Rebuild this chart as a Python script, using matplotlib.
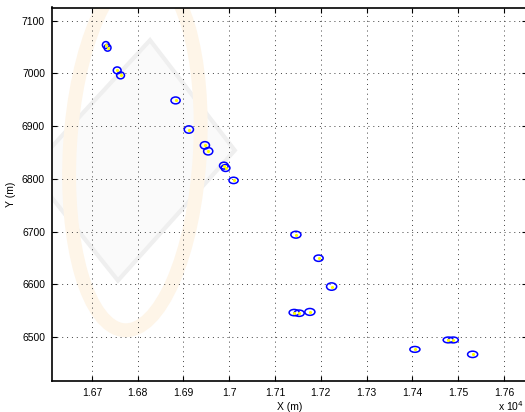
import numpy as np
import matplotlib.pyplot as plt
from matplotlib.patches import Ellipse, Polygon
from matplotlib.ticker import MultipleLocator, FuncFormatter

plt.rcParams['font.family'] = ['Liberation Sans', 'DejaVu Sans']

# estimated positions (m) and uncertainty ellipse sizes (m)
x_est = [16730.6, 16734.3, 16755.3, 16762.7, 16882.8, 16911.8, 16946.8, 16954.0,
         16988.2, 16991.9, 17009.4, 17145.5, 17195.0, 17223.4, 17141.7, 17152.6,
         17176.0, 17405.3, 17478.0, 17489.0, 17531.3]
y_est = [7053.8, 7048.7, 7005.7, 6996.2, 6948.7, 6893.5, 6863.5, 6852.3,
         6825.0, 6820.5, 6797.0, 6694.0, 6649.4, 6595.6, 6546.2, 6545.0,
         6547.5, 6476.4, 6494.3, 6494.3, 6467.0]
ell_w = [15, 15, 17, 17, 20, 20, 20, 20, 19, 19, 20, 22, 20, 22, 22, 22,
         22, 22, 22, 22, 22]
ell_h = [13, 13, 13, 13, 13, 14, 14, 14, 13, 13, 12, 13, 12, 14, 12, 12,
         13, 11, 11, 11, 12]

fig = plt.figure(figsize=(5.25, 4.12), dpi=100)
ax = fig.add_axes([52/525, 31.3/412, 475/525, 373.2/412])

# faint background logo
ax.add_patch(Polygon([(16565, 6816), (16757, 6607), (17012, 6854), (16827, 7063)],
                     closed=True, fc='#fafafa', ec='#efefef', lw=3, zorder=0))
ax.add_patch(Ellipse((16794, 6854), 284, 684, angle=-4, fill=False,
                     ec='#fef5e8', lw=10, zorder=0))

for xe, ye, w, h in zip(x_est, y_est, ell_w, ell_h):
    ax.add_patch(Ellipse((xe, ye), w, h, fill=False, ec='#0000ff', lw=1.1, zorder=3))
ax.plot(x_est, y_est, '.', color='#ffff00', ms=2.5, zorder=4)

ax.set_xlim(16613, 17650)
ax.set_ylim(6417, 7125)
ax.xaxis.set_major_locator(MultipleLocator(100))
ax.yaxis.set_major_locator(MultipleLocator(100))
ax.xaxis.set_major_formatter(FuncFormatter(lambda v, p: f'{v/1e4:g}'))
ax.grid(True, ls=(0, (1, 4)), color='#404040', lw=0.7)
ax.tick_params(direction='in', top=True, right=True, length=3.5, width=0.8,
               labelsize=7.5, pad=5)
for s in ax.spines.values():
    s.set_linewidth(1.2)

ax.set_xlabel('X (m)', fontsize=7.5, labelpad=3)
ax.set_ylabel('Y (m)', fontsize=7.5, labelpad=4)
fig.text(498/525, 1 - 406/412, r'x 10$^4$', fontsize=7.5, ha='left', va='center')

fig.savefig('out.png', dpi=100)
